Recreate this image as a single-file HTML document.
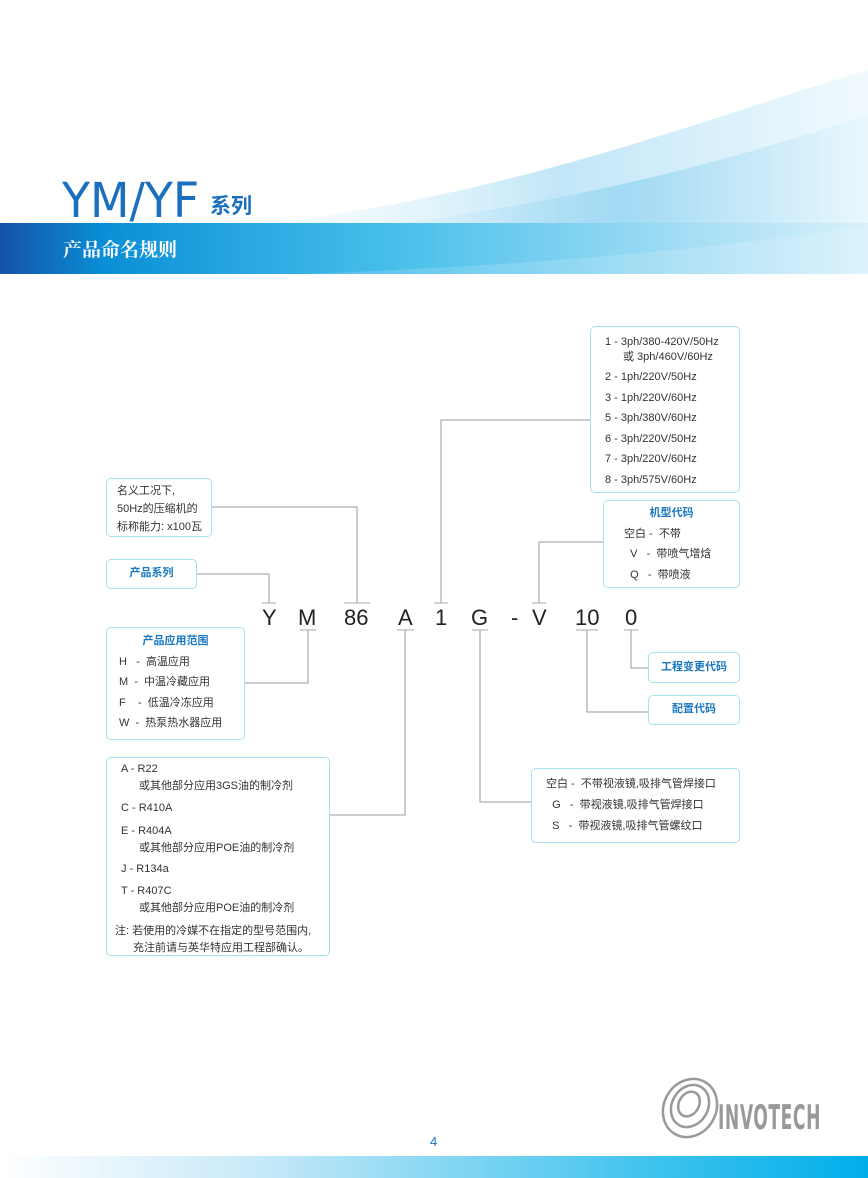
<!DOCTYPE html>
<html><head><meta charset="utf-8">
<style>
*{margin:0;padding:0;box-sizing:border-box}
body{width:868px;height:1178px;position:relative;background:#fff;overflow:hidden;font-family:"Liberation Sans","Noto Sans CJK SC",sans-serif;color:#333}
.a{position:absolute}
.box{position:absolute;border:1.5px solid #a8dff0;border-radius:5px;background:#fff;font-size:11px;line-height:20.5px}
.h{color:#1a78c2;font-weight:bold;text-align:center}
.code{position:absolute;top:605px;font-size:22px;color:#222;font-family:"Liberation Sans",sans-serif}
</style></head><body>
<svg class="a" style="left:0;top:0" width="868" height="1178">
<defs>
<linearGradient id="band" x1="0" x2="1"><stop offset="0" stop-color="#1552a8"/><stop offset="0.12" stop-color="#0a8fd6"/><stop offset="0.45" stop-color="#47bfeb"/><stop offset="0.8" stop-color="#a6def5"/><stop offset="1" stop-color="#d8f1fb"/></linearGradient>
<linearGradient id="sw" x1="0" x2="1"><stop offset="0" stop-color="#bfe6f8" stop-opacity="0"/><stop offset="0.5" stop-color="#8fd2f1"/><stop offset="1" stop-color="#e6f6fd"/></linearGradient>
<linearGradient id="bot" x1="0" x2="1"><stop offset="0" stop-color="#fff"/><stop offset="0.3" stop-color="#c6e9f8"/><stop offset="0.75" stop-color="#3fc3ee"/><stop offset="1" stop-color="#00aeea"/></linearGradient>
</defs>
<path d="M250 225 C500 200 700 120 868 70 L868 225 Z" fill="url(#sw)" opacity="0.55"/>
<path d="M380 225 C600 200 760 150 868 115 L868 225 Z" fill="url(#sw)" opacity="0.7"/>
<rect x="0" y="223" width="868" height="51" fill="url(#band)"/>
<path d="M300 274 C550 265 750 245 868 225 L868 274 Z" fill="#fff" opacity="0.15"/>
<rect x="0" y="1156" width="868" height="22" fill="url(#bot)"/>
<g stroke="#999" stroke-width="1" fill="none">
<polyline points="212,507 357,507 357,603"/>
<polyline points="197,574 269,574 269,603"/>
<polyline points="590,420 441,420 441,603"/>
<polyline points="603,542 539,542 539,603"/>
<polyline points="308,630 308,683 245,683"/>
<polyline points="405,630 405,815 330,815"/>
<polyline points="480,630 480,802 531,802"/>
<polyline points="587,630 587,712 648,712"/>
<polyline points="631,630 631,668 648,668"/>
</g>
<g stroke="#aaa" stroke-width="1">
<line x1="262" y1="603" x2="276" y2="603"/><line x1="344" y1="603" x2="370" y2="603"/><line x1="434" y1="603" x2="448" y2="603"/><line x1="532" y1="603" x2="546" y2="603"/>
<line x1="300" y1="630" x2="316" y2="630"/><line x1="397" y1="630" x2="414" y2="630"/><line x1="472" y1="630" x2="488" y2="630"/><line x1="576" y1="630" x2="598" y2="630"/><line x1="624" y1="630" x2="638" y2="630"/>
</g>
<g fill="none" stroke="#999" stroke-width="2.5">
<ellipse cx="690" cy="1108" rx="26" ry="30" transform="rotate(30 690 1108)"/>
<ellipse cx="690" cy="1106" rx="18" ry="22" transform="rotate(30 690 1106)"/>
<ellipse cx="689" cy="1104" rx="10" ry="13" transform="rotate(30 689 1104)"/>
</g>
</svg>
<div class="a" style="left:62px;top:176px;font-size:48px;color:#1a6fbf;font-family:'DejaVu Sans Condensed','Liberation Sans Narrow',sans-serif;line-height:50px;transform:scaleX(1.06);transform-origin:left">YM/YF</div>
<div class="a" style="left:210px;top:193px;font-size:21px;color:#1a6fbf;font-weight:bold;line-height:28px">系列</div>
<div class="a" style="left:63px;top:236px;font-size:19px;color:#fff;font-weight:bold;line-height:26px;font-family:'Noto Serif CJK SC',serif">产品命名规则</div>

<div class="box" style="left:590px;top:326px;width:150px;height:167px;padding:5px 0 0 14px">1 - 3ph/380-420V/50Hz<div style="margin-left:18px;margin-top:-6px">或 3ph/460V/60Hz</div>2 - 1ph/220V/50Hz<br>3 - 1ph/220V/60Hz<br>5 - 3ph/380V/60Hz<br>6 - 3ph/220V/50Hz<br>7 - 3ph/220V/60Hz<br>8 - 3ph/575V/60Hz</div>

<div class="box" style="left:106px;top:478px;width:106px;height:59px;padding:3px 0 0 10px;line-height:18px">名义工况下,<br>50Hz的压缩机的<br>标称能力: x100瓦</div>
<div class="box h" style="left:106px;top:559px;width:91px;height:30px;line-height:27px">产品系列</div>

<div class="box" style="left:106px;top:627px;width:139px;height:113px;padding:3px 0 0 12px">
<div class="h" style="margin-left:-12px">产品应用范围</div>
<div>H &nbsp;&nbsp;- &nbsp;高温应用</div><div>M &nbsp;- &nbsp;中温冷藏应用</div><div>F &nbsp;&nbsp;&nbsp;- &nbsp;低温冷冻应用</div><div>W &nbsp;- &nbsp;热泵热水器应用</div></div>

<div class="box" style="left:106px;top:757px;width:224px;height:199px;padding:3px 0 0 14px;line-height:17px">
A - R22<div style="margin-left:18px">或其他部分应用3GS油的制冷剂</div>
<div style="margin-top:5px">C - R410A</div>
<div style="margin-top:6px">E - R404A</div><div style="margin-left:18px">或其他部分应用POE油的制冷剂</div>
<div style="margin-top:4px">J - R134a</div>
<div style="margin-top:5px">T - R407C</div><div style="margin-left:18px">或其他部分应用POE油的制冷剂</div>
<div style="margin-top:6px;margin-left:-6px">注: 若使用的冷媒不在指定的型号范围内,</div><div style="margin-left:12px">充注前请与英华特应用工程部确认。</div></div>

<div class="box" style="left:603px;top:500px;width:137px;height:88px;padding:2px 0 0 20px">
<div class="h" style="margin-left:-20px">机型代码</div>
<div>空白 - &nbsp;不带</div><div>&nbsp;&nbsp;V &nbsp;&nbsp;- &nbsp;带喷气增焓</div><div>&nbsp;&nbsp;Q &nbsp;&nbsp;- &nbsp;带喷液</div></div>

<div class="box h" style="left:648px;top:652px;width:92px;height:31px;line-height:28px">工程变更代码</div>
<div class="box h" style="left:648px;top:695px;width:92px;height:30px;line-height:27px">配置代码</div>

<div class="box" style="left:531px;top:768px;width:209px;height:75px;padding:5px 0 0 14px;line-height:21px">
<div>空白 - &nbsp;不带视液镜,吸排气管焊接口</div><div>&nbsp;&nbsp;G &nbsp;&nbsp;- &nbsp;带视液镜,吸排气管焊接口</div><div>&nbsp;&nbsp;S &nbsp;&nbsp;- &nbsp;带视液镜,吸排气管螺纹口</div></div>

<div class="code" style="left:262px">Y</div>
<div class="code" style="left:298px">M</div>
<div class="code" style="left:344px">86</div>
<div class="code" style="left:398px">A</div>
<div class="code" style="left:435px">1</div>
<div class="code" style="left:471px">G</div>
<div class="code" style="left:511px">-</div>
<div class="code" style="left:532px">V</div>
<div class="code" style="left:575px">10</div>
<div class="code" style="left:625px">0</div>

<div class="a" style="left:430px;top:1134px;font-size:13px;color:#1a6fbf">4</div>
<div class="a" style="left:718px;top:1098px;font-size:34px;font-weight:bold;color:#999;font-family:'DejaVu Sans Condensed','Liberation Sans Narrow',sans-serif;transform:scaleX(0.56);transform-origin:left;letter-spacing:1px">INVOTECH</div>
</body></html>
